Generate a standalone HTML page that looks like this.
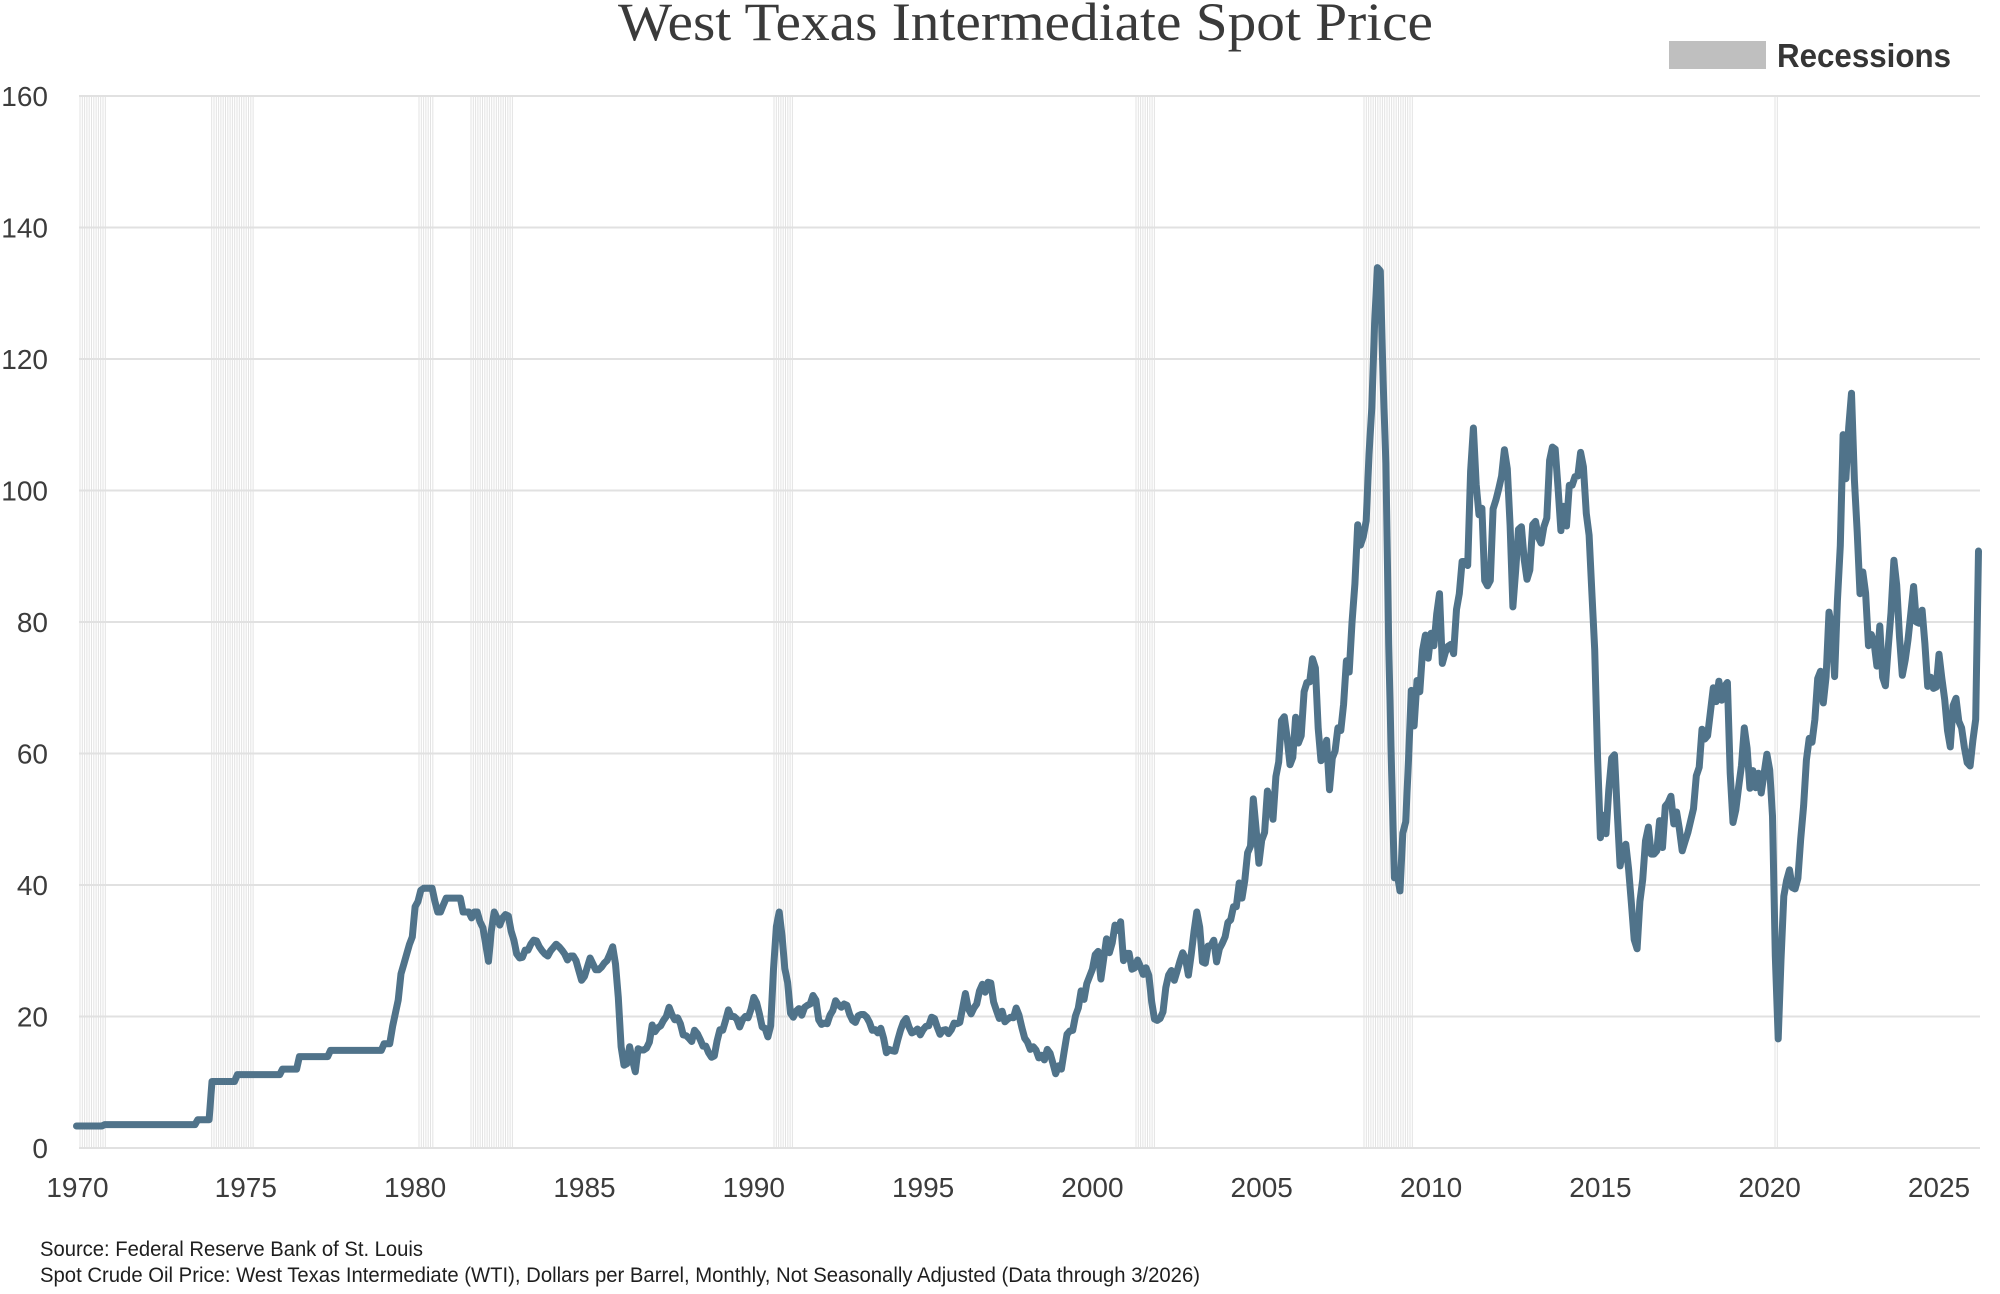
<!DOCTYPE html>
<html>
<head>
<meta charset="utf-8">
<style>
  html,body{margin:0;padding:0;background:#fff;}
  svg{display:block;}
</style>
</head>
<body>
<svg id="chart" xmlns="http://www.w3.org/2000/svg" width="2000" height="1294" viewBox="0 0 2000 1294">
  <rect x="0" y="0" width="2000" height="1294" fill="#ffffff"/>
  <g id="bands"></g>
  <g stroke="#e1e1e1" stroke-width="2">
    <line x1="79" y1="96" x2="1980" y2="96"/>
    <line x1="79" y1="227.5" x2="1980" y2="227.5"/>
    <line x1="79" y1="359" x2="1980" y2="359"/>
    <line x1="79" y1="490.5" x2="1980" y2="490.5"/>
    <line x1="79" y1="622" x2="1980" y2="622"/>
    <line x1="79" y1="753.5" x2="1980" y2="753.5"/>
    <line x1="79" y1="885" x2="1980" y2="885"/>
    <line x1="79" y1="1016.5" x2="1980" y2="1016.5"/>
    <line x1="79" y1="1148" x2="1980" y2="1148"/>
  </g>
  <path id="series" d="" fill="none" stroke="#50738a" stroke-width="7" stroke-linejoin="round" stroke-linecap="round"/>

  <g font-family="'Liberation Sans', Arial, sans-serif" font-size="28" fill="#3c3c3c" text-anchor="end">
    <text x="48" y="106">160</text>
    <text x="48" y="237.5">140</text>
    <text x="48" y="369">120</text>
    <text x="48" y="500.5">100</text>
    <text x="48" y="632">80</text>
    <text x="48" y="763.5">60</text>
    <text x="48" y="895">40</text>
    <text x="48" y="1026.5">20</text>
    <text x="48" y="1158">0</text>
  </g>
  <g font-family="'Liberation Sans', Arial, sans-serif" font-size="28" fill="#3c3c3c" text-anchor="middle">
    <text x="77.5" y="1197">1970</text>
    <text x="245.8" y="1197">1975</text>
    <text x="415.1" y="1197">1980</text>
    <text x="584.5" y="1197">1985</text>
    <text x="753.8" y="1197">1990</text>
    <text x="923.1" y="1197">1995</text>
    <text x="1092.4" y="1197">2000</text>
    <text x="1261.7" y="1197">2005</text>
    <text x="1431.1" y="1197">2010</text>
    <text x="1600.4" y="1197">2015</text>
    <text x="1769.7" y="1197">2020</text>
    <text x="1939" y="1197">2025</text>
  </g>

  <text x="618" y="40" font-family="'Liberation Serif', Georgia, serif" font-size="54" fill="#3a3a3a" textLength="815" lengthAdjust="spacingAndGlyphs">West Texas Intermediate Spot Price</text>

  <rect x="1669" y="41" width="97" height="28" fill="#bfbfbf"/>
  <text x="1777" y="67" font-family="'Liberation Sans', Arial, sans-serif" font-weight="bold" font-size="33" fill="#353535" textLength="174" lengthAdjust="spacingAndGlyphs">Recessions</text>

  <text x="40" y="1256" font-family="'Liberation Sans', Arial, sans-serif" font-size="21" fill="#1e1e1e" textLength="383" lengthAdjust="spacingAndGlyphs">Source: Federal Reserve Bank of St. Louis</text>
  <text x="40" y="1282" font-family="'Liberation Sans', Arial, sans-serif" font-size="21" fill="#1e1e1e" textLength="1160" lengthAdjust="spacingAndGlyphs">Spot Crude Oil Price: West Texas Intermediate (WTI), Dollars per Barrel, Monthly, Not Seasonally Adjusted (Data through 3/2026)</text>
</svg>
<script>
(function(){
  var d = [
  3.35,3.35,3.35,3.35,3.35,3.35,3.35,3.35,3.35,3.35,3.56,3.56,
  3.56,3.56,3.56,3.56,3.56,3.56,3.56,3.56,3.56,3.56,3.56,3.56,
  3.56,3.56,3.56,3.56,3.56,3.56,3.56,3.56,3.56,3.56,3.56,3.56,
  3.56,3.56,3.56,3.56,3.56,3.56,3.56,4.31,4.31,4.31,4.31,4.31,
  10.11,10.11,10.11,10.11,10.11,10.11,10.11,10.11,10.11,11.16,11.16,11.16,
  11.16,11.16,11.16,11.16,11.16,11.16,11.16,11.16,11.16,11.16,11.16,11.16,
  11.16,12.0,12.0,12.0,12.0,12.0,12.0,13.9,13.9,13.9,13.9,13.9,
  13.9,13.9,13.9,13.9,13.9,13.9,14.85,14.85,14.85,14.85,14.85,14.85,
  14.85,14.85,14.85,14.85,14.85,14.85,14.85,14.85,14.85,14.85,14.85,14.85,
  14.85,15.85,15.85,15.85,18.5,20.5,22.5,26.5,28.0,29.5,31.0,32.1,
  36.7,37.5,39.2,39.5,39.5,39.5,39.5,37.5,35.9,35.9,37.0,38.0,
  38.0,38.0,38.0,38.0,38.0,35.9,35.9,35.9,35.0,35.9,35.9,34.4,
  33.5,31.0,28.4,33.0,35.9,35.0,33.9,35.0,35.5,35.3,33.0,31.6,
  29.5,28.9,29.0,30.1,30.1,31.0,31.6,31.5,30.6,30.0,29.5,29.2,
  30.0,30.5,31.0,30.6,30.1,29.5,28.6,29.2,29.2,28.5,27.0,25.5,
  26.1,27.5,28.9,28.0,27.1,27.1,27.5,28.1,28.5,29.5,30.6,28.0,
  22.9,15.4,12.6,12.8,15.4,13.4,11.6,15.1,14.9,14.9,15.2,16.1,
  18.7,17.7,18.3,18.6,19.4,20.0,21.4,20.3,19.5,19.8,18.9,17.2,
  17.1,16.7,16.2,17.9,17.4,16.5,15.5,15.5,14.5,13.8,14.0,16.3,
  18.0,17.9,19.4,21.0,20.0,20.0,19.6,18.4,19.5,20.0,19.8,21.1,
  22.9,22.1,20.4,18.4,18.2,16.9,18.6,27.2,33.7,35.9,32.3,27.3,
  25.2,20.5,19.9,20.8,21.2,20.2,21.4,21.7,21.9,23.2,22.5,19.5,
  18.8,19.0,18.9,20.2,20.9,22.4,21.8,21.4,21.9,21.7,20.3,19.4,
  19.1,20.1,20.3,20.3,19.9,19.1,17.9,18.0,17.5,18.2,16.7,14.5,
  15.0,14.8,14.7,16.4,17.9,19.1,19.7,18.4,17.5,17.7,18.1,17.2,
  18.0,18.5,18.6,19.9,19.7,18.4,17.3,17.9,18.0,17.4,18.0,19.0,
  18.9,19.1,21.3,23.5,21.2,20.4,21.3,21.9,23.9,24.9,23.7,25.2,
  25.1,22.2,20.9,19.7,20.8,19.2,19.6,19.9,19.8,21.3,20.2,18.3,
  16.7,16.1,15.0,15.4,14.9,13.7,14.1,13.4,15.0,14.4,12.9,11.3,
  12.5,12.0,14.7,17.3,17.8,17.9,20.1,21.3,23.9,22.6,25.0,26.1,
  27.2,29.4,29.9,25.7,28.8,31.8,29.7,31.2,33.9,33.1,34.4,28.5,
  29.6,29.6,27.2,27.4,28.6,27.6,26.4,27.4,26.2,22.2,19.6,19.4,
  19.7,20.7,24.4,26.3,27.0,25.5,26.9,28.4,29.7,28.8,26.3,29.4,
  32.9,35.9,33.6,28.3,28.1,30.7,30.8,31.6,28.3,30.3,31.1,32.1,
  34.3,34.7,36.7,36.7,40.3,38.0,40.7,44.9,45.9,53.1,48.5,43.3,
  46.8,48.0,54.3,53.0,50.0,56.5,58.7,65.0,65.6,62.4,58.3,59.4,
  65.5,61.6,62.7,69.4,70.8,70.9,74.4,73.0,63.8,58.9,59.4,62.0,
  54.5,59.3,60.4,63.9,63.5,67.5,74.1,72.4,79.9,85.8,94.8,91.7,
  93.0,95.4,105.5,112.6,125.4,133.9,133.4,116.7,104.1,76.6,57.3,41.1,
  41.7,39.1,47.9,49.6,59.0,69.6,64.2,71.1,69.4,75.7,78.0,74.5,
  78.3,76.4,81.2,84.3,73.7,75.3,76.3,76.6,75.2,81.9,84.3,89.2,
  89.2,88.6,102.9,109.5,100.9,96.3,97.3,86.3,85.5,86.3,97.2,98.6,
  100.3,102.2,106.2,103.3,94.7,82.3,87.9,94.1,94.5,89.5,86.5,87.9,
  94.8,95.3,92.9,92.0,94.5,95.8,104.6,106.6,106.3,100.5,93.9,97.6,
  94.6,100.8,100.8,102.1,102.2,105.8,103.6,96.5,93.2,84.4,75.8,59.3,
  47.2,50.6,47.8,54.5,59.3,59.8,50.9,42.9,45.5,46.2,42.4,37.2,
  31.7,30.3,37.5,40.8,46.7,48.8,44.7,44.7,45.2,49.8,45.7,52.0,
  52.5,53.5,49.3,51.1,48.5,45.2,46.6,48.0,49.8,51.6,56.6,57.9,
  63.7,62.2,62.7,66.3,70.0,67.9,71.0,68.1,70.2,70.8,57.0,49.5,
  51.4,55.0,58.2,63.9,60.8,54.7,57.4,54.8,57.0,54.0,57.0,59.9,
  57.5,50.5,29.2,16.6,28.6,38.3,40.7,42.3,39.6,39.4,41.0,47.0,
  52.0,59.0,62.3,61.7,65.2,71.4,72.5,67.7,71.7,81.5,79.2,71.7,
  83.2,91.6,108.5,101.8,109.6,114.8,101.6,93.7,84.3,87.6,84.4,76.4,
  78.1,76.8,73.3,79.4,71.6,70.3,76.1,81.4,89.4,85.6,77.7,71.9,
  74.2,77.3,81.3,85.4,80.0,79.8,81.8,76.7,70.2,71.6,69.9,70.1,
  75.1,71.5,68.2,63.5,61.0,67.3,68.4,64.9,63.9,60.9,58.6,58.1,
  62.0,65.2,90.8
  ];
  var x0 = 76.5, dx = 2.822, yb = 1148, sy = 6.575;
  var p = [];
  for (var i = 0; i < d.length; i++) {
    var x = x0 + i*dx, y = yb - d[i]*sy;
    p.push((i ? 'L' : 'M') + x.toFixed(1) + ' ' + y.toFixed(1));
  }
  document.getElementById('series').setAttribute('d', p.join(''));

  var bands = [[79,107],[210.7,253],[418,434],[470,513],[773,794],[1135,1155],[1363,1412],[1774,1778]];
  var ns = 'http://www.w3.org/2000/svg';
  var g = document.getElementById('bands');
  for (var b = 0; b < bands.length; b++) {
    var s = bands[b][0], e = bands[b][1];
    for (var xx = s + 0.5; xx <= e; xx += 2.3) {
      var l = document.createElementNS(ns, 'rect');
      l.setAttribute('x', xx.toFixed(2)); l.setAttribute('y', 96);
      l.setAttribute('width', 1); l.setAttribute('height', 1052);
      l.setAttribute('fill', '#e3e3e3');
      g.appendChild(l);
    }
  }
})();
</script>
</body>
</html>
